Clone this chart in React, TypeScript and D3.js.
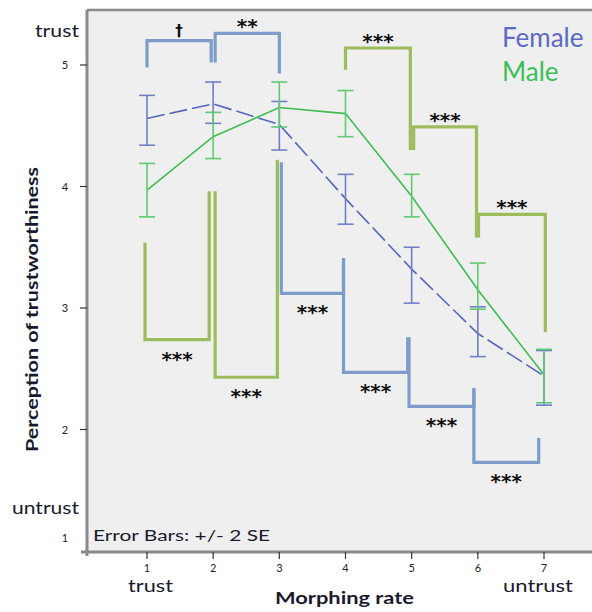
import * as d3 from "d3";

const W = 592;
const H = 612;
const PLOT = { left: 87, top: 10, right: 592, bottom: 552 };

// morphing rates and means with +/- 2 SE bounds
const MORPH = [1, 2, 3, 4, 5, 6, 7];
const FEMALE_MEAN = [4.56, 4.68, 4.51, 3.9, 3.32, 2.79, 2.44];
const FEMALE_HI = [4.75, 4.86, 4.7, 4.1, 3.5, 3.01, 2.65];
const FEMALE_LO = [4.34, 4.52, 4.3, 3.69, 3.04, 2.6, 2.2];
const MALE_MEAN = [3.97, 4.41, 4.65, 4.6, 3.92, 3.15, 2.45];
const MALE_HI = [4.19, 4.61, 4.86, 4.79, 4.1, 3.37, 2.66];
const MALE_LO = [3.75, 4.23, 4.49, 4.41, 3.75, 2.99, 2.22];
const Y_TICKS = [1, 2, 3, 4, 5];

// significance brackets: x0/x1 on morph scale, legs end at leg0/leg1, bar at level
type Bracket = { x0: number; x1: number; leg0: number; leg1: number; level: number; label: string };
const FEMALE_BRACKETS: Bracket[] = [
  { x0: 1, x1: 1.97, leg0: 4.98, leg1: 5.02, level: 5.2, label: "†" },
  { x0: 2.03, x1: 3, leg0: 5.02, leg1: 4.93, level: 5.26, label: "**" },
  { x0: 3.03, x1: 3.97, leg0: 4.2, leg1: 3.41, level: 3.12, label: "***" },
  { x0: 3.97, x1: 4.94, leg0: 3.41, leg1: 2.76, level: 2.47, label: "***" },
  { x0: 4.96, x1: 5.94, leg0: 2.76, leg1: 2.34, level: 2.19, label: "***" },
  { x0: 5.94, x1: 6.92, leg0: 2.34, leg1: 1.93, level: 1.73, label: "***" },
];
const MALE_BRACKETS: Bracket[] = [
  { x0: 4, x1: 4.98, leg0: 4.96, leg1: 4.3, level: 5.14, label: "***" },
  { x0: 5.03, x1: 5.98, leg0: 4.3, leg1: 3.58, level: 4.49, label: "***" },
  { x0: 6.01, x1: 7.02, leg0: 3.58, leg1: 2.8, level: 3.77, label: "***" },
  { x0: 0.97, x1: 1.94, leg0: 3.54, leg1: 3.96, level: 2.74, label: "***" },
  { x0: 2.03, x1: 2.97, leg0: 3.96, leg1: 4.22, level: 2.43, label: "***" },
];

const FONT = "Lato, 'Open Sans', sans-serif";
const INK = "#1a1a2e";
const FEMALE_LINE = "#5565bb";
const FEMALE_BAR = "#6f7fc6";
const MALE_LINE = "#3fbd52";
const MALE_BAR = "#62c873";
const BR_BLUE = "#7e9cca";
const BR_GREEN = "#9dbd5c";

const x = d3.scaleLinear().domain([1, 7]).range([147, 544]);
const y = d3.scaleLinear().domain([1, 5]).range([551, 65]);

const Series = ({ mean, lo, hi, line, bar, dash }: any) => {
  const pts = MORPH.map((m, i) => [x(m), y(mean[i])] as [number, number]);
  const path = d3.line()(pts) || "";
  return (
    <g>
      <path d={path} fill="none" stroke={line} strokeWidth={1.6} strokeDasharray={dash} />
      {MORPH.map((m, i) => (
        <g key={m} stroke={bar} strokeWidth={1.6}>
          <line x1={x(m)} x2={x(m)} y1={y(hi[i])} y2={y(lo[i])} />
          <line x1={x(m) - 8} x2={x(m) + 8} y1={y(hi[i])} y2={y(hi[i])} />
          <line x1={x(m) - 8} x2={x(m) + 8} y1={y(lo[i])} y2={y(lo[i])} />
        </g>
      ))}
    </g>
  );
};

const Brackets = ({ data, color }: { data: Bracket[]; color: string }) => (
  <g>
    {data.map((b, i) => {
      const above = b.level > Math.max(b.leg0, b.leg1);
      const d = `M${x(b.x0)},${y(b.leg0)}V${y(b.level)}H${x(b.x1)}V${y(b.leg1)}`;
      const cx = (x(b.x0) + x(b.x1)) / 2;
      const ly = above ? y(b.level) - 10 : y(b.level) + 16;
      return (
        <g key={i}>
          <path d={d} fill="none" stroke={color} strokeWidth={3.2} />
          <text
            x={cx}
            y={ly + (b.label === "†" ? 5 : 10)}
            textAnchor="middle"
            fontFamily="'DejaVu Sans', sans-serif"
            fontWeight="bold"
            fontSize={b.label === "†" ? 15 : 20}
            fill="#111"
          >
            {b.label}
          </text>
        </g>
      );
    })}
  </g>
);

const Label = ({ x: lx, y: ly, w, size, anchor, bold, children }: any) => (
  <text
    x={lx}
    y={ly}
    textAnchor={anchor || "start"}
    fontFamily={FONT}
    fontWeight={bold ? "bold" : "normal"}
    fontSize={size}
    fill={INK}
    textLength={w}
    lengthAdjust="spacingAndGlyphs"
  >
    {children}
  </text>
);

export default function App() {
  return (
    <svg width={W} height={H} style={{ position: "absolute", left: 0, top: 0, background: "#fff" }}>
      <rect x={PLOT.left} y={PLOT.top} width={PLOT.right - PLOT.left} height={PLOT.bottom - PLOT.top} fill="#efefef" />
      <line x1={PLOT.left} x2={PLOT.right} y1={PLOT.top} y2={PLOT.top} stroke="#8a8a8a" strokeWidth={2.5} />
      <line x1={PLOT.left} x2={PLOT.left} y1={PLOT.top} y2={PLOT.bottom + 4} stroke="#8a8a8a" strokeWidth={3} />
      <line x1={PLOT.left - 6} x2={PLOT.right} y1={PLOT.bottom} y2={PLOT.bottom} stroke="#8a8a8a" strokeWidth={3} />

      {Y_TICKS.map((t) => (
        <g key={t}>
          {t > 1 && <line x1={80} x2={PLOT.left} y1={y(t)} y2={y(t)} stroke="#333" strokeWidth={1.2} />}
          <text x={65} y={t === 1 ? 542 : y(t) + 4} textAnchor="middle" fontFamily={FONT} fontSize={11} fill="#222">
            {t}
          </text>
        </g>
      ))}
      {MORPH.map((m) => (
        <g key={m}>
          <line x1={x(m)} x2={x(m)} y1={PLOT.bottom} y2={PLOT.bottom + 7} stroke="#333" strokeWidth={1.2} />
          <text x={x(m)} y={572} textAnchor="middle" fontFamily={FONT} fontSize={11} fill="#222">
            {m}
          </text>
        </g>
      ))}

      <Label x={35} y={37} w={44} size={18}>trust</Label>
      <Label x={12} y={514} w={67} size={18}>untrust</Label>
      <Label x={128} y={592} w={45} size={18}>trust</Label>
      <Label x={503} y={592} w={70} size={18}>untrust</Label>
      <Label x={275} y={604} w={139} size={17} bold>Morphing rate</Label>
      <g transform="translate(38,452) rotate(-90)">
        <Label x={0} y={0} w={285} size={17} bold>Perception of trustworthiness</Label>
      </g>
      <Label x={93} y={541} w={177} size={16}>Error Bars: +/- 2 SE</Label>

      <Brackets data={FEMALE_BRACKETS} color={BR_BLUE} />
      <Brackets data={MALE_BRACKETS} color={BR_GREEN} />

      <Series mean={FEMALE_MEAN} lo={FEMALE_LO} hi={FEMALE_HI} line={FEMALE_LINE} bar={FEMALE_BAR} dash="18,5" />
      <Series mean={MALE_MEAN} lo={MALE_LO} hi={MALE_HI} line={MALE_LINE} bar={MALE_BAR} />

      <text x={502} y={47} fontFamily={FONT} fontSize={26} fill="#5b6ac2">Female</text>
      <text x={502} y={81} fontFamily={FONT} fontSize={26} fill="#3cbf58">Male</text>
    </svg>
  );
}
